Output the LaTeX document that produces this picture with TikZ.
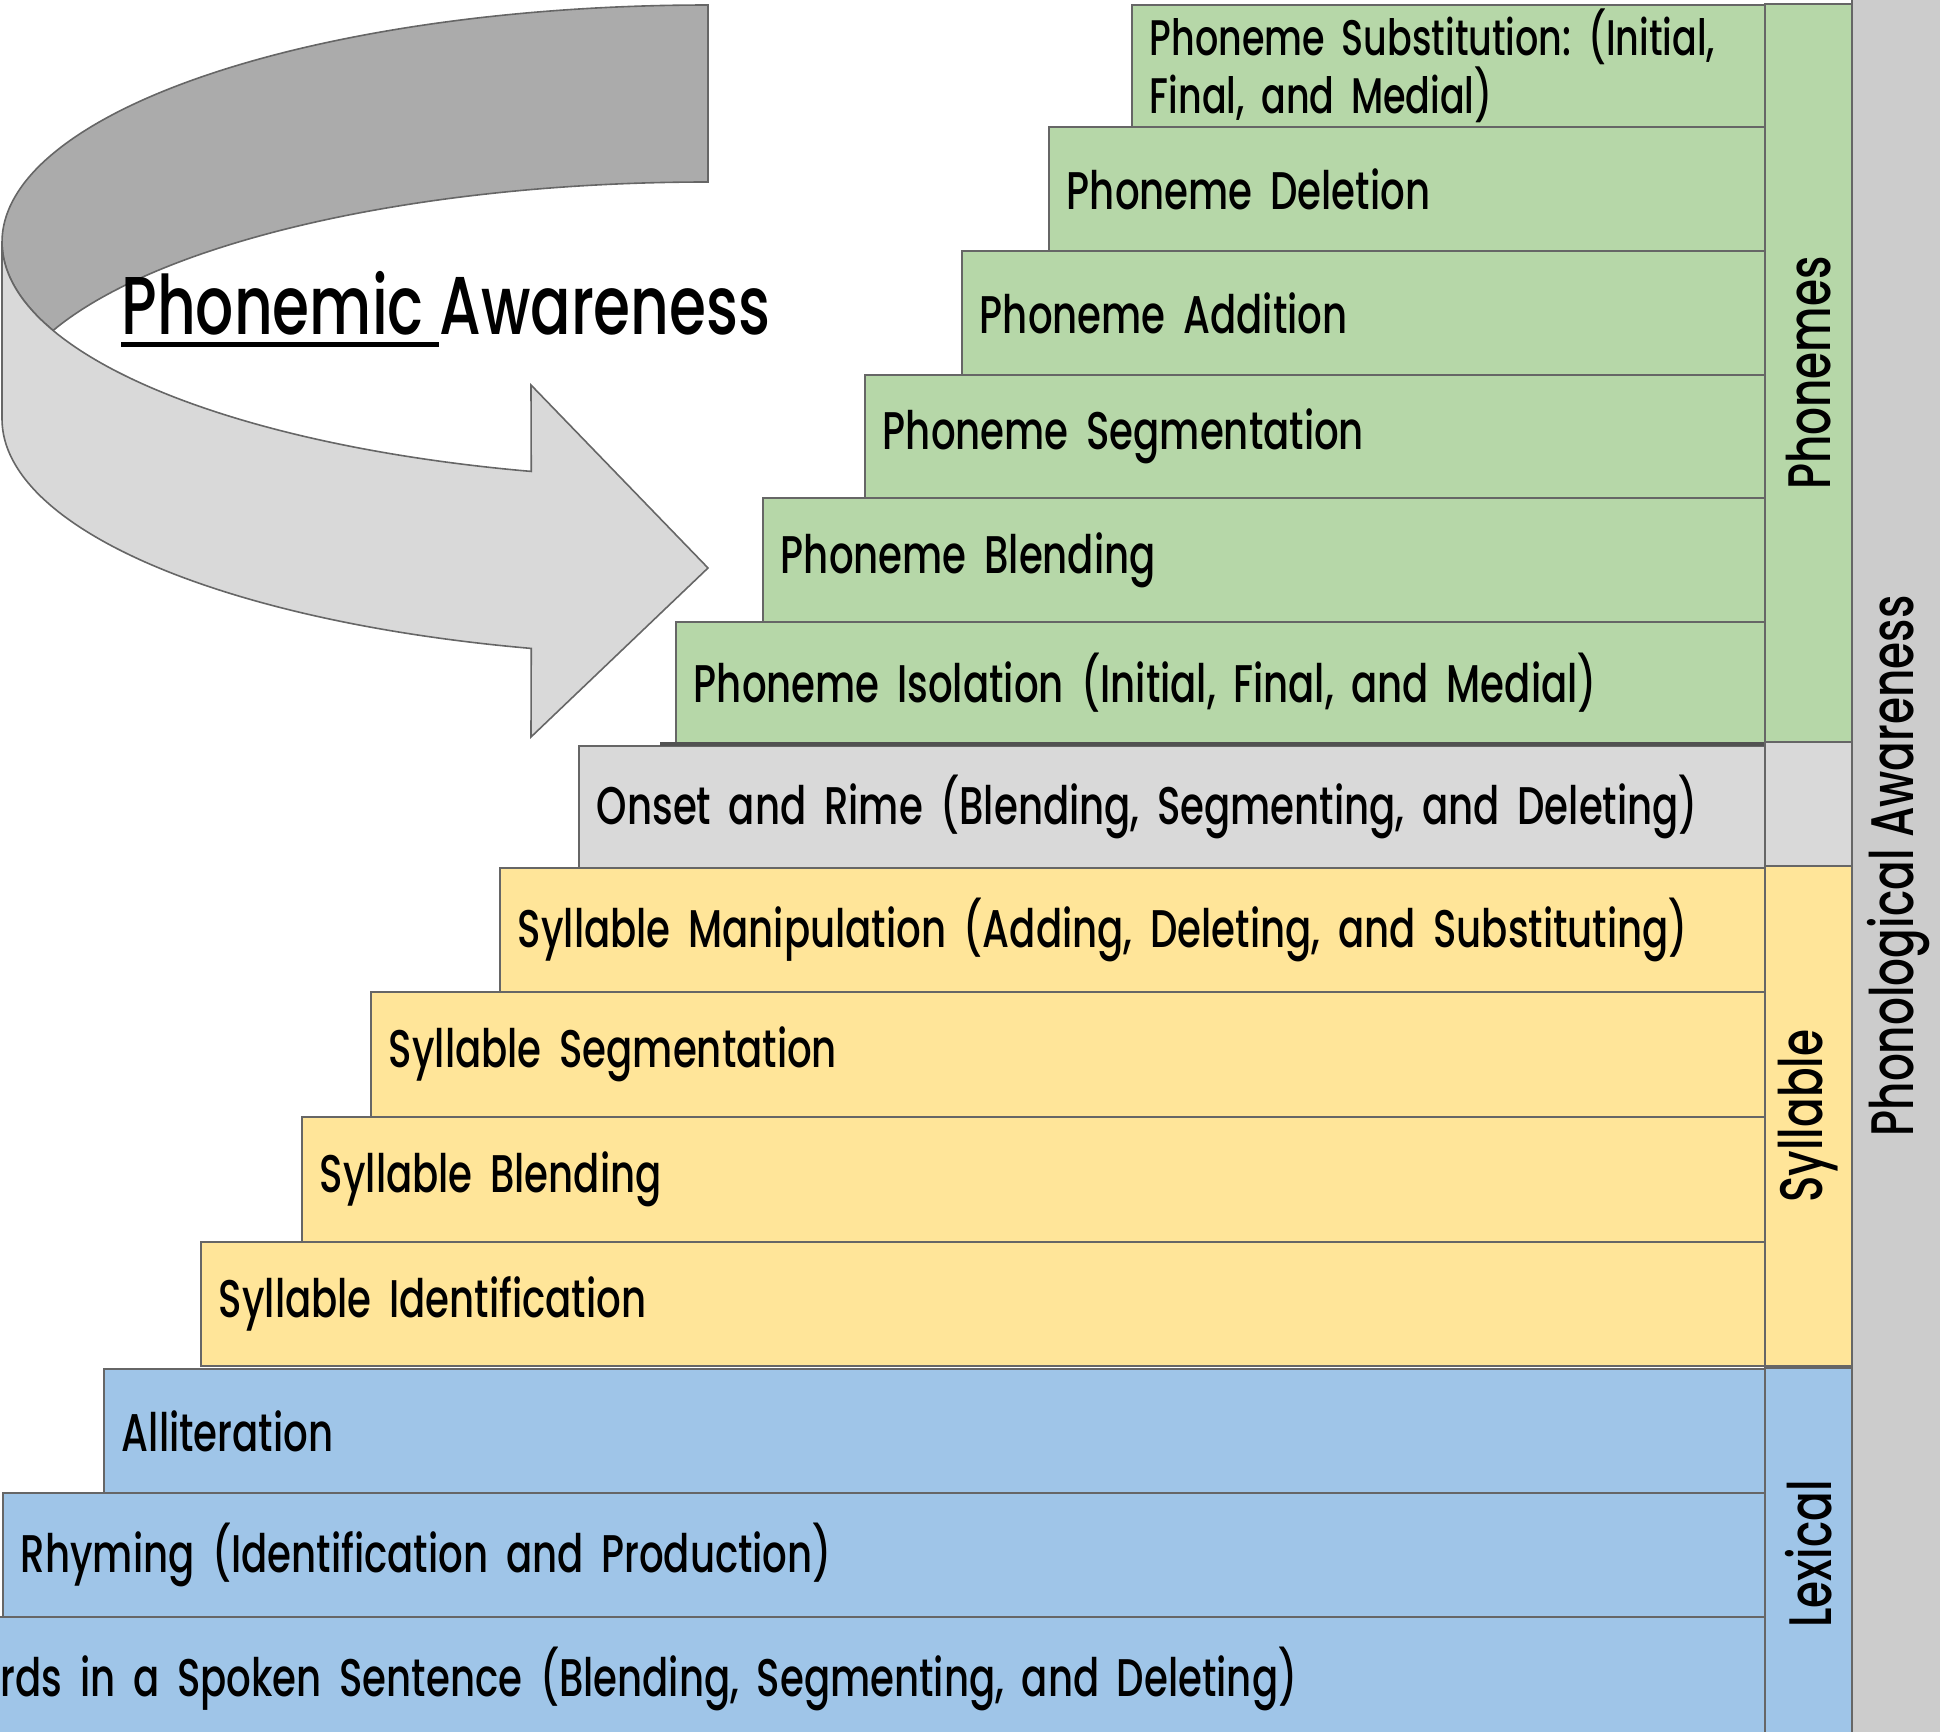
\documentclass[tikz,border=0pt]{standalone}
\usepackage{fontspec}
\setmainfont{Poppins}[FakeStretch=0.73, UprightFont=* Medium]
\definecolor{linegray}{HTML}{666666}
\definecolor{phonemegreen}{HTML}{B6D7A8}
\definecolor{onsetgray}{HTML}{D9D9D9}
\definecolor{syllableyellow}{HTML}{FFE599}
\definecolor{lexicalblue}{HTML}{9FC5E8}
\definecolor{sidegray}{HTML}{CCCCCC}
\definecolor{arrowdark}{HTML}{ABABAB}
\definecolor{arrowlight}{HTML}{D9D9D9}
\newcommand{\steptext}{\fontsize{26.5}{26.5}\selectfont\frenchspacing}
\newcommand{\smallsteptext}{\fontsize{25}{26.5}\selectfont\frenchspacing}
\newcommand{\grouptext}{\fontsize{30}{32}\selectfont}
\newcommand{\titletext}{\fontsize{41}{44}\selectfont}
\newcommand{\ulphrase}[1]{\setbox0\hbox{#1}\rlap{\rule[-6pt]{\wd0}{2.5pt}}\box0}
\begin{document}
\begin{tikzpicture}[x=0.5pt, y=-0.5pt]
  % Define styles for steps and groups
  \tikzset{
    step box/.style={draw=linegray, line width=0.9pt, fill=#1, anchor=north west,
      align=left, inner xsep=9pt, inner ysep=0pt, font=\steptext},
    group box/.style={draw=linegray, line width=0.9pt, fill=#1, rotate=90,
      minimum height=43.5pt, inner sep=0pt, font=\grouptext},
    arrow shape/.style={draw=linegray, line width=0.8pt, fill=#1}
  }
  \useasboundingbox (0,0) rectangle (1940,1732);

  % Curved arrow
  \draw[arrow shape=arrowdark]
    plot[domain=270:158.1, variable=\t, samples=60, smooth] ({708+706*cos(\t)},{242+237*sin(\t)})
    -- plot[domain=201.9:270, variable=\t, samples=60, smooth] ({708+706*cos(\t)},{419+237*sin(\t)})
    -- cycle;
  \draw[arrow shape=arrowlight]
    plot[domain=180:104.5, variable=\t, samples=60, smooth] ({708+706*cos(\t)},{242+237*sin(\t)})
    -- (531,385) -- (708,568) -- (531,737)
    -- plot[domain=104.5:180, variable=\t, samples=60, smooth] ({708+706*cos(\t)},{419+237*sin(\t)})
    -- cycle;
  \node[font=\titletext, anchor=west, inner sep=0pt] (title) at (121,309) {\ulphrase{Phonemic }Awareness};

  % Lexical steps
  \node[step box=lexicalblue, text width=873.5pt, minimum height=62pt] (l1) at (-18,1616) {rds in a Spoken Sentence (Blending, Segmenting, and Deleting)};
  \node[step box=lexicalblue, text width=863.5pt, minimum height=62pt] (l2) at (2,1492) {Rhyming (Identification and Production)};
  \node[step box=lexicalblue, text width=813pt, minimum height=62pt] (l3) at (103,1368) {Alliteration};

  % Syllable steps
  \node[step box=syllableyellow, text width=764.5pt, minimum height=62pt] (s1) at (200,1241) {Syllable Identification};
  \node[step box=syllableyellow, text width=714pt, minimum height=62.5pt] (s2) at (301,1116) {Syllable Blending};
  \node[step box=syllableyellow, text width=679.5pt, minimum height=62.5pt] (s3) at (370,991) {Syllable Segmentation};
  \node[step box=syllableyellow, text width=615pt, minimum height=62pt] (s4) at (499,867) {Syllable Manipulation (Adding, Deleting, and Substituting)};

  % Onset and rime step
  \node[step box=onsetgray, text width=575.5pt, minimum height=61pt] (o1) at (578,745) {Onset and Rime (Blending, Segmenting, and Deleting)};

  % Phoneme steps
  \node[step box=phonemegreen, text width=527pt, minimum height=60.5pt] (p1) at (675,621) {Phoneme Isolation (Initial, Final, and Medial)};
  \node[step box=phonemegreen, text width=483.5pt, minimum height=62pt] (p2) at (762,497) {Phoneme Blending};
  \node[step box=phonemegreen, text width=432.5pt, minimum height=61.5pt] (p3) at (864,374) {Phoneme Segmentation};
  \node[step box=phonemegreen, text width=384pt, minimum height=62pt] (p4) at (961,250) {Phoneme Addition};
  \node[step box=phonemegreen, text width=340.5pt, minimum height=62pt] (p5) at (1048,126) {Phoneme Deletion};
  \node[step box=phonemegreen, text width=299pt, minimum height=61pt, font=\smallsteptext] (p6) at (1131,4) {Phoneme Substitution: (Initial,\\Final, and Medial)};
  \draw[draw=linegray!80!black, line width=2pt] ([xshift=-7.5pt]p1.south west) -- ([xshift=39pt]p1.south east);

  % Group columns
  \node[group box=phonemegreen, minimum width=369pt] (gphon) at (1808.5,373) {Phonemes};
  \node[group box=onsetgray, minimum width=62pt] (gonset) at (1808.5,804) {};
  \node[group box=syllableyellow, minimum width=250pt] (gsyl) at (1808.5,1116) {Syllable};
  \node[group box=lexicalblue, minimum width=186pt] (glex) at (1808.5,1554) {Lexical};
  \node[group box=sidegray, minimum width=871pt, minimum height=46.5pt] (gall) at (1898.5,866) {Phonological Awareness};
\end{tikzpicture}
\end{document}
